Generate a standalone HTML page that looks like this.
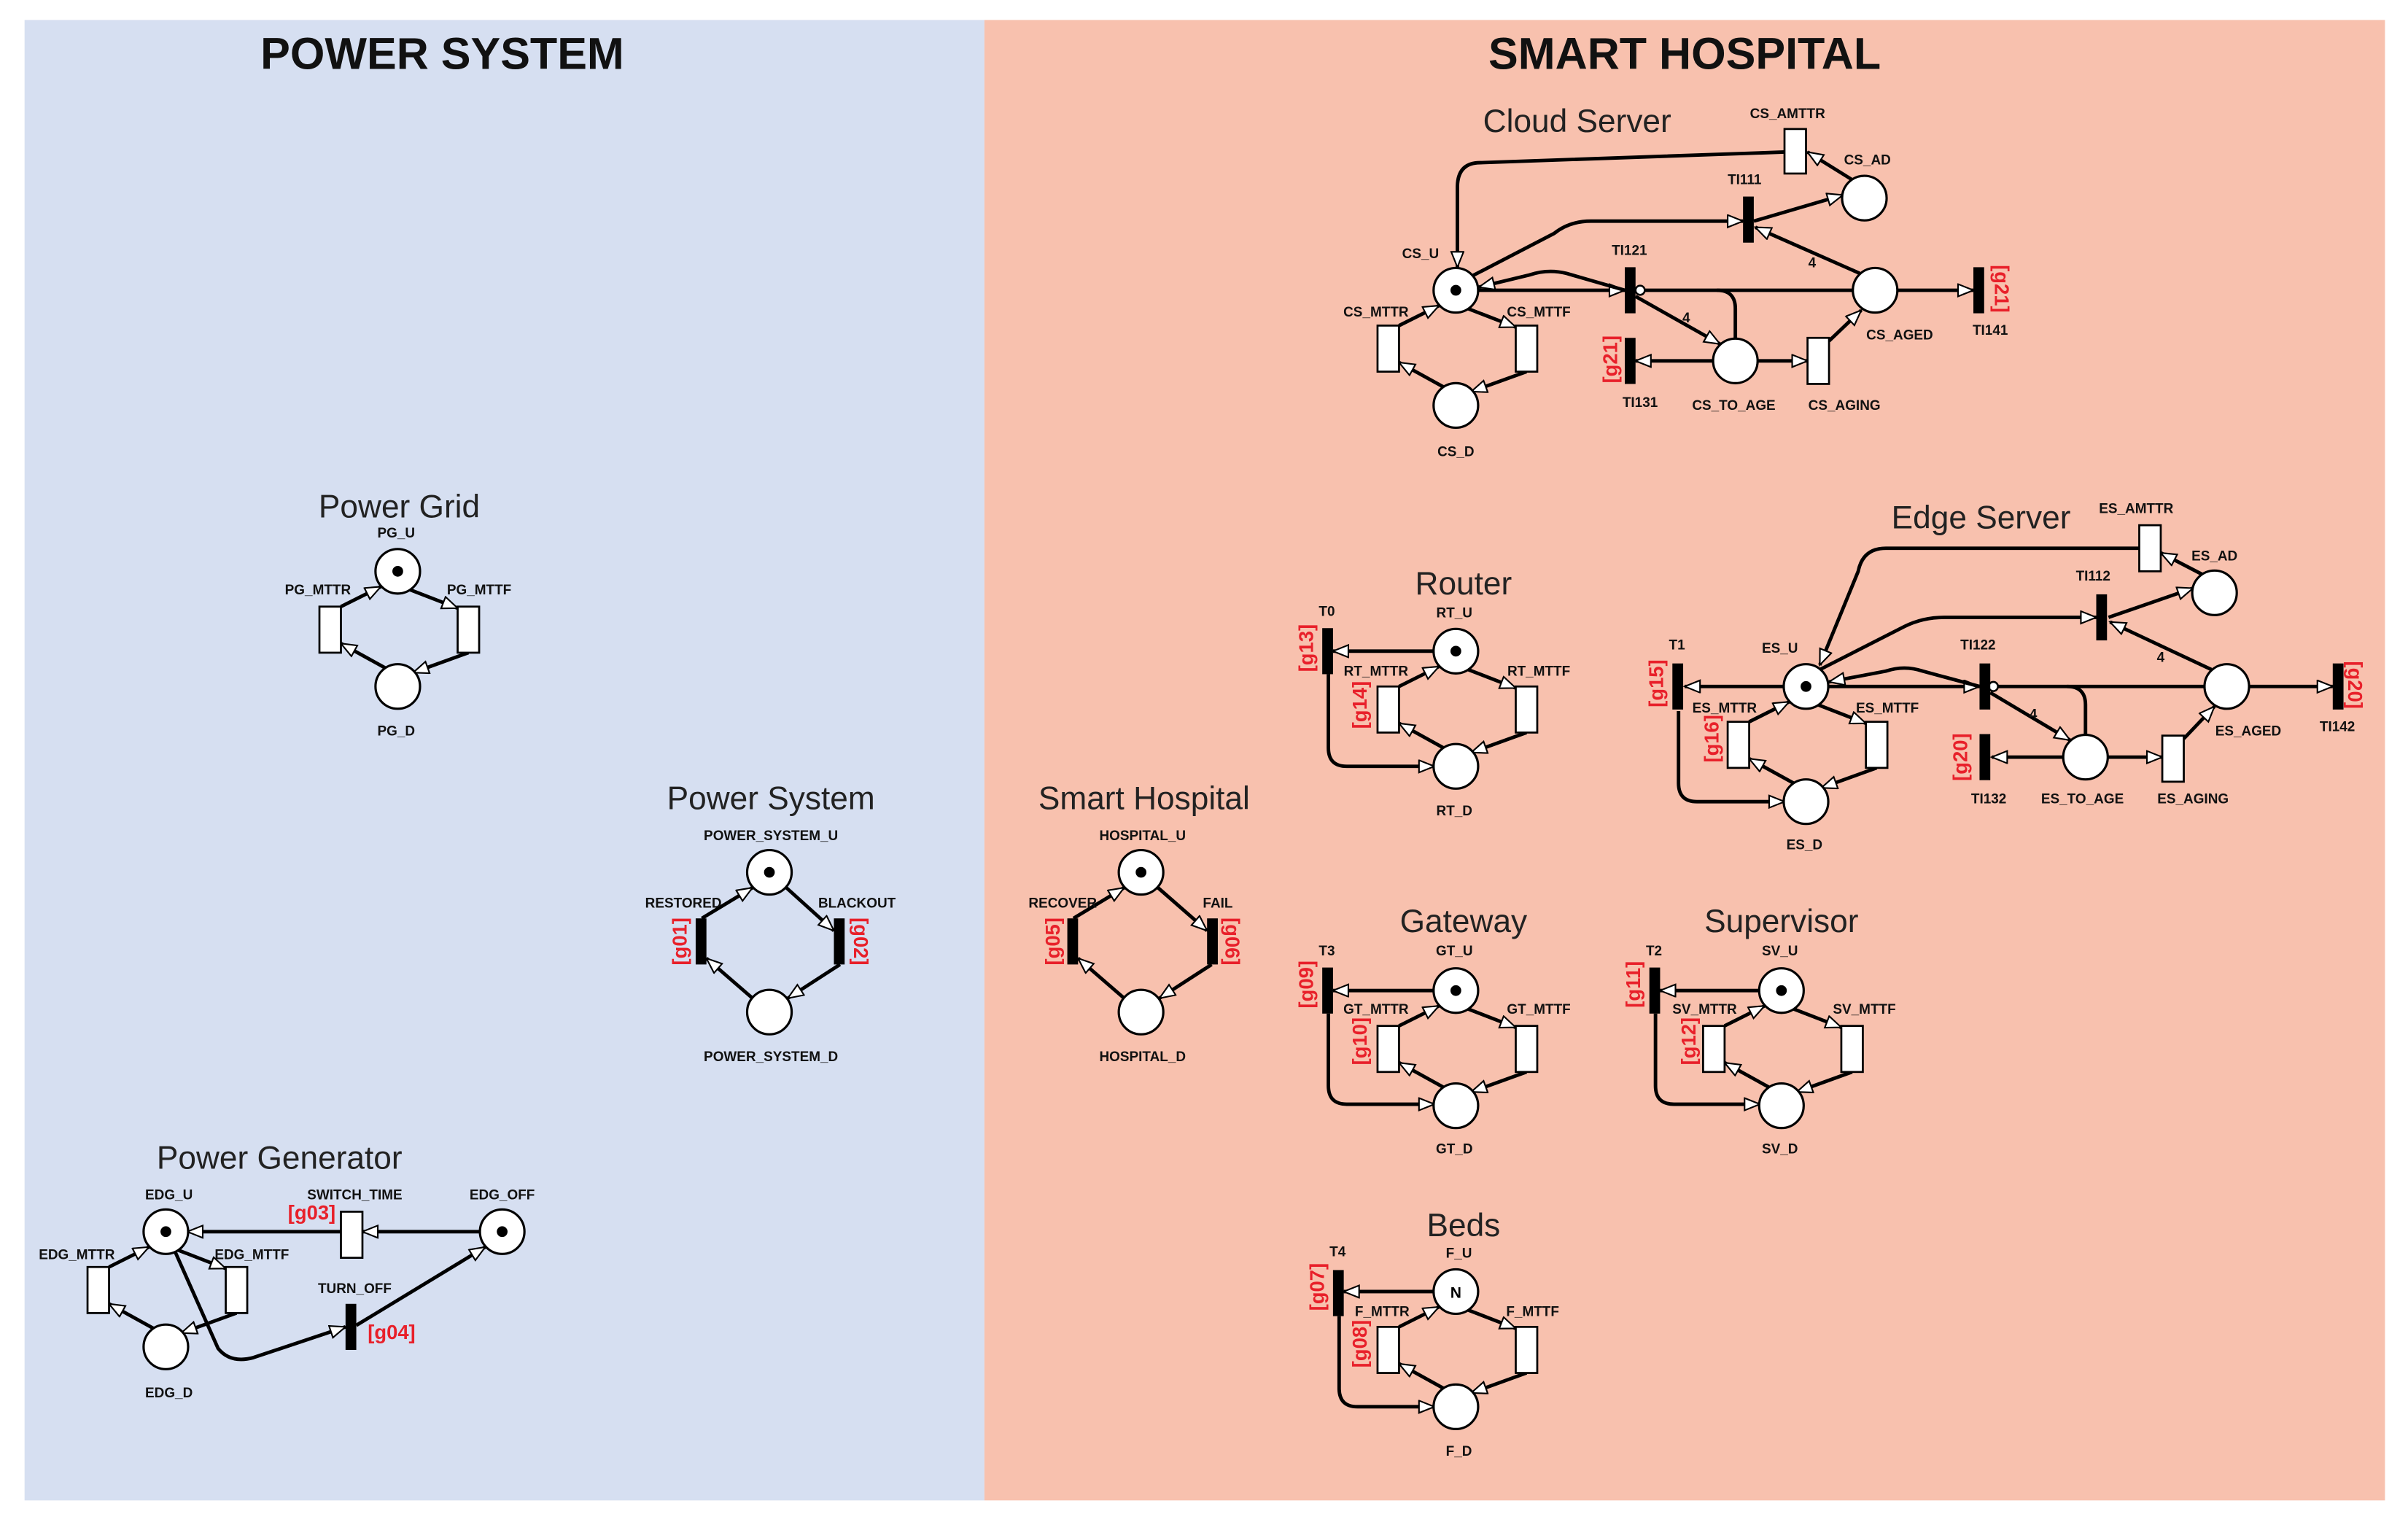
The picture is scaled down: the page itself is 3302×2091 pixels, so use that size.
<!DOCTYPE html>
<html><head><meta charset="utf-8"><style>
html,body{margin:0;padding:0;background:#fff}
svg{display:block}
text{font-family:"Liberation Sans",Arial,sans-serif}
.l{font-size:9px;font-weight:bold;text-anchor:middle;fill:#111}
.t{font-size:21px;text-anchor:middle;fill:#222}
.h{font-size:29px;font-weight:bold;text-anchor:middle;fill:#111}
.g{font-size:13px;font-weight:bold;fill:#e8202a;text-anchor:middle}
.a{fill:none;stroke:#000;stroke-width:2.3;marker-end:url(#ar)}
.n{fill:none;stroke:#000;stroke-width:2.3}
.p{fill:#fff;stroke:#000;stroke-width:1.5}
.r{fill:#fff;stroke:#000;stroke-width:1.3}
.b{fill:#000}
</style></head><body>
<svg width="3302" height="2091" viewBox="0 0 1568 993" preserveAspectRatio="none" xmlns="http://www.w3.org/2000/svg">
<defs>
<marker id="ar" markerUnits="userSpaceOnUse" markerWidth="12" markerHeight="10" refX="11" refY="4.5" orient="auto">
<path d="M1,0.5 L11,4.5 L1,8.5 z" fill="#fff" stroke="#000" stroke-width="1"/>
</marker>
<g id="cyc">
<path class="a" d="M8,12 L39,24"/>
<path class="a" d="M46,53 L10,66"/>
<path class="a" d="M-8,63 L-37,47"/>
<path class="a" d="M-37,23 L-11,10"/>
<circle class="p" cx="0" cy="0" r="14.5"/>
<circle class="p" cx="0" cy="75" r="14.5"/>
<rect class="r" x="-51" y="23" width="14" height="30"/>
<rect class="r" x="39" y="23" width="14" height="30"/>
</g>
</defs>
<rect x="16" y="13" width="625" height="964" fill="#d6dff1"/>
<rect x="641" y="13" width="912" height="964" fill="#f8c1ae"/>
<text class="h" x="288" y="45">POWER SYSTEM</text>
<text class="h" x="1097" y="45">SMART HOSPITAL</text>

<!-- Power Grid -->
<text class="t" x="260" y="337">Power Grid</text>
<use href="#cyc" x="259" y="372"/>
<circle class="b" cx="259" cy="372" r="3.5"/>
<text class="l" x="258" y="350">PG_U</text>
<text class="l" x="207" y="387">PG_MTTR</text>
<text class="l" x="312" y="387">PG_MTTF</text>
<text class="l" x="258" y="479">PG_D</text>

<!-- Power System -->
<text class="t" x="502" y="527">Power System</text>
<path class="a" d="M512,578 L543,606"/>
<path class="a" d="M547,628 L513,650"/>
<path class="a" d="M490,650 L460,624"/>
<path class="a" d="M457,598 L490,578"/>
<circle class="p" cx="501" cy="568" r="14.5"/>
<circle class="b" cx="501" cy="568" r="3.5"/>
<circle class="p" cx="501" cy="659" r="14.5"/>
<rect class="b" x="453" y="598" width="7" height="30"/>
<rect class="b" x="543" y="598" width="7" height="30"/>
<text class="l" x="502" y="547">POWER_SYSTEM_U</text>
<text class="l" x="445" y="591">RESTORED</text>
<text class="l" x="558" y="591">BLACKOUT</text>
<text class="l" x="502" y="691">POWER_SYSTEM_D</text>
<text class="g" transform="translate(447,613) rotate(-90)">[g01]</text>
<text class="g" transform="translate(556,613) rotate(90)">[g02]</text>

<!-- Smart Hospital -->
<text class="t" x="745" y="527">Smart Hospital</text>
<path class="a" d="M754,578 L786,606"/>
<path class="a" d="M789,628 L755,650"/>
<path class="a" d="M732,650 L702,624"/>
<path class="a" d="M699,598 L732,578"/>
<circle class="p" cx="743" cy="568" r="14.5"/>
<circle class="b" cx="743" cy="568" r="3.5"/>
<circle class="p" cx="743" cy="659" r="14.5"/>
<rect class="b" x="695" y="598" width="7" height="30"/>
<rect class="b" x="786" y="598" width="7" height="30"/>
<text class="l" x="744" y="547">HOSPITAL_U</text>
<text class="l" x="692" y="591">RECOVER</text>
<text class="l" x="793" y="591">FAIL</text>
<text class="l" x="744" y="691">HOSPITAL_D</text>
<text class="g" transform="translate(690,613) rotate(-90)">[g05]</text>
<text class="g" transform="translate(798,613) rotate(90)">[g06]</text>

<!-- Power Generator -->
<text class="t" x="182" y="761">Power Generator</text>
<path class="a" d="M313,802 L236,802"/>
<path class="a" d="M222,802 L122,802"/>
<path class="a" d="M114,815 L142,878 Q150,888 165,884 L225,864"/>
<path class="a" d="M232,863 L316,812"/>
<use href="#cyc" x="108" y="802"/>
<circle class="b" cx="108" cy="802" r="3.5"/>
<circle class="p" cx="327" cy="802" r="14.5"/>
<circle class="b" cx="327" cy="802" r="3.5"/>
<rect class="r" x="222" y="789" width="14" height="30"/>
<rect class="b" x="225" y="849" width="7" height="30"/>
<text class="l" x="110" y="781">EDG_U</text>
<text class="l" x="50" y="820">EDG_MTTR</text>
<text class="l" x="164" y="820">EDG_MTTF</text>
<text class="l" x="231" y="781">SWITCH_TIME</text>
<text class="l" x="327" y="781">EDG_OFF</text>
<text class="l" x="231" y="842">TURN_OFF</text>
<text class="l" x="110" y="910">EDG_D</text>
<text class="g" x="203" y="794">[g03]</text>
<text class="g" x="255" y="872">[g04]</text>

<!-- Cloud Server -->
<text class="t" x="1027" y="86">Cloud Server</text>
<path class="a" d="M1162,99 L962,106 Q949,107 949,122 L949,174"/>
<path class="a" d="M1206,117 L1177,99"/>
<path class="a" d="M1142,144 L1200,127"/>
<path class="a" d="M958,180 L1012,152 Q1022,144 1036,144 L1135,144"/>
<path class="a" d="M1211,178 L1143,148"/>
<path class="a" d="M962,189 L1058,189"/>
<path class="a" d="M1058,189 L1020,178 Q1008,175 996,179 L963,187"/>
<path class="n" d="M1207,189 L1071,189"/>
<path class="n" d="M1130,220 L1130,201 Q1130,189 1118,189"/>
<circle cx="1068" cy="189" r="3" fill="#fff" stroke="#000" stroke-width="1.2"/>
<path class="a" d="M1065,193 L1120,224"/>
<path class="a" d="M1116,235 L1065,235"/>
<path class="a" d="M1144,235 L1177,235"/>
<path class="a" d="M1191,222 L1212,202"/>
<path class="a" d="M1235,189 L1285,189"/>
<use href="#cyc" x="948" y="189"/>
<circle class="b" cx="948" cy="189" r="3.5"/>
<circle class="p" cx="1214" cy="129" r="14.5"/>
<circle class="p" cx="1221" cy="189" r="14.5"/>
<circle class="p" cx="1130" cy="235" r="14.5"/>
<rect class="r" x="1162" y="84" width="14" height="29"/>
<rect class="r" x="1177" y="220" width="14" height="30"/>
<rect class="b" x="1135" y="128" width="7" height="30"/>
<rect class="b" x="1058" y="174" width="7" height="30"/>
<rect class="b" x="1058" y="220" width="7" height="30"/>
<rect class="b" x="1285" y="174" width="7" height="30"/>
<text class="l" x="1180" y="174">4</text>
<text class="l" x="1098" y="210">4</text>
<text class="l" x="1164" y="77">CS_AMTTR</text>
<text class="l" x="1216" y="107">CS_AD</text>
<text class="l" x="1136" y="120">TI111</text>
<text class="l" x="925" y="168">CS_U</text>
<text class="l" x="1061" y="166">TI121</text>
<text class="l" x="896" y="206">CS_MTTR</text>
<text class="l" x="1002" y="206">CS_MTTF</text>
<text class="l" x="1237" y="221">CS_AGED</text>
<text class="l" x="1296" y="218">TI141</text>
<text class="l" x="1068" y="265">TI131</text>
<text class="l" x="1129" y="267">CS_TO_AGE</text>
<text class="l" x="1201" y="267">CS_AGING</text>
<text class="l" x="948" y="297">CS_D</text>
<text class="g" transform="translate(1053,234) rotate(-90)">[g21]</text>
<text class="g" transform="translate(1299,188) rotate(90)">[g21]</text>

<!-- Edge Server -->
<text class="t" x="1290" y="344">Edge Server</text>
<path class="a" d="M1393,357 L1228,357 Q1213,357 1210,372 L1185,433"/>
<path class="a" d="M1434,374 L1407,360"/>
<path class="a" d="M1373,402 L1428,383"/>
<path class="a" d="M1185,436 L1240,408 Q1252,402 1266,402 L1365,402"/>
<path class="a" d="M1440,436 L1374,405"/>
<path class="a" d="M1190,447 L1289,447"/>
<path class="a" d="M1289,447 L1252,437 Q1240,433 1228,437 L1191,444"/>
<path class="n" d="M1436,447 L1301,447"/>
<path class="n" d="M1358,478 L1358,459 Q1358,447 1346,447"/>
<circle cx="1298" cy="447" r="3" fill="#fff" stroke="#000" stroke-width="1.2"/>
<path class="a" d="M1296,451 L1348,482"/>
<path class="a" d="M1344,493 L1297,493"/>
<path class="a" d="M1372,493 L1408,493"/>
<path class="a" d="M1422,481 L1442,460"/>
<path class="a" d="M1464,447 L1519,447"/>
<path class="a" d="M1162,447 L1097,447"/>
<path class="a" d="M1093,463 L1093,510 Q1093,522 1105,522 L1162,522"/>
<use href="#cyc" x="1176" y="447"/>
<circle class="b" cx="1176" cy="447" r="3.5"/>
<circle class="p" cx="1442" cy="386" r="14.5"/>
<circle class="p" cx="1450" cy="447" r="14.5"/>
<circle class="p" cx="1358" cy="493" r="14.5"/>
<rect class="r" x="1393" y="342" width="14" height="30"/>
<rect class="r" x="1408" y="479" width="14" height="30"/>
<rect class="b" x="1365" y="387" width="7" height="30"/>
<rect class="b" x="1289" y="432" width="7" height="30"/>
<rect class="b" x="1089" y="432" width="7" height="30"/>
<rect class="b" x="1289" y="478" width="7" height="30"/>
<rect class="b" x="1519" y="432" width="7" height="30"/>
<text class="l" x="1407" y="431">4</text>
<text class="l" x="1324" y="468">4</text>
<text class="l" x="1391" y="334">ES_AMTTR</text>
<text class="l" x="1442" y="365">ES_AD</text>
<text class="l" x="1363" y="378">TI112</text>
<text class="l" x="1092" y="423">T1</text>
<text class="l" x="1159" y="425">ES_U</text>
<text class="l" x="1288" y="423">TI122</text>
<text class="l" x="1123" y="464">ES_MTTR</text>
<text class="l" x="1229" y="464">ES_MTTF</text>
<text class="l" x="1464" y="479">ES_AGED</text>
<text class="l" x="1522" y="476">TI142</text>
<text class="l" x="1295" y="523">TI132</text>
<text class="l" x="1356" y="523">ES_TO_AGE</text>
<text class="l" x="1428" y="523">ES_AGING</text>
<text class="l" x="1175" y="553">ES_D</text>
<text class="g" transform="translate(1083,445) rotate(-90)">[g15]</text>
<text class="g" transform="translate(1119,481) rotate(-90)">[g16]</text>
<text class="g" transform="translate(1281,493) rotate(-90)">[g20]</text>
<text class="g" transform="translate(1529,446) rotate(90)">[g20]</text>

<!-- Router -->
<text class="t" x="953" y="387">Router</text>
<path class="a" d="M934,424 L868,424"/>
<path class="a" d="M865,439 L865,487 Q865,499 877,499 L934,499"/>
<use href="#cyc" x="948" y="424"/>
<circle class="b" cx="948" cy="424" r="3.5"/>
<rect class="b" x="861" y="409" width="7" height="30"/>
<text class="l" x="864" y="401">T0</text>
<text class="l" x="947" y="402">RT_U</text>
<text class="l" x="896" y="440">RT_MTTR</text>
<text class="l" x="1002" y="440">RT_MTTF</text>
<text class="l" x="947" y="531">RT_D</text>
<text class="g" transform="translate(855,422) rotate(-90)">[g13]</text>
<text class="g" transform="translate(890,459) rotate(-90)">[g14]</text>

<!-- Gateway -->
<text class="t" x="953" y="607">Gateway</text>
<path class="a" d="M934,645 L868,645"/>
<path class="a" d="M865,660 L865,707 Q865,719 877,719 L934,719"/>
<use href="#cyc" x="948" y="645"/>
<circle class="b" cx="948" cy="645" r="3.5"/>
<rect class="b" x="861" y="630" width="7" height="30"/>
<text class="l" x="864" y="622">T3</text>
<text class="l" x="947" y="622">GT_U</text>
<text class="l" x="896" y="660">GT_MTTR</text>
<text class="l" x="1002" y="660">GT_MTTF</text>
<text class="l" x="947" y="751">GT_D</text>
<text class="g" transform="translate(855,641) rotate(-90)">[g09]</text>
<text class="g" transform="translate(890,678) rotate(-90)">[g10]</text>

<!-- Supervisor -->
<text class="t" x="1160" y="607">Supervisor</text>
<path class="a" d="M1146,645 L1081,645"/>
<path class="a" d="M1078,660 L1078,707 Q1078,719 1090,719 L1146,719"/>
<use href="#cyc" x="1160" y="645"/>
<circle class="b" cx="1160" cy="645" r="3.5"/>
<rect class="b" x="1074" y="630" width="7" height="30"/>
<text class="l" x="1077" y="622">T2</text>
<text class="l" x="1159" y="622">SV_U</text>
<text class="l" x="1110" y="660">SV_MTTR</text>
<text class="l" x="1214" y="660">SV_MTTF</text>
<text class="l" x="1159" y="751">SV_D</text>
<text class="g" transform="translate(1068,641) rotate(-90)">[g11]</text>
<text class="g" transform="translate(1104,678) rotate(-90)">[g12]</text>

<!-- Beds -->
<text class="t" x="953" y="805">Beds</text>
<path class="a" d="M934,841 L875,841"/>
<path class="a" d="M872,857 L872,904 Q872,916 884,916 L934,916"/>
<use href="#cyc" x="948" y="841"/>
<text x="948" y="845" style="font-size:10px;font-weight:bold;text-anchor:middle">N</text>
<rect class="b" x="868" y="827" width="7" height="30"/>
<text class="l" x="871" y="818">T4</text>
<text class="l" x="950" y="819">F_U</text>
<text class="l" x="900" y="857">F_MTTR</text>
<text class="l" x="998" y="857">F_MTTF</text>
<text class="l" x="950" y="948">F_D</text>
<text class="g" transform="translate(862,838) rotate(-90)">[g07]</text>
<text class="g" transform="translate(890,875) rotate(-90)">[g08]</text>
</svg>
</body></html>
